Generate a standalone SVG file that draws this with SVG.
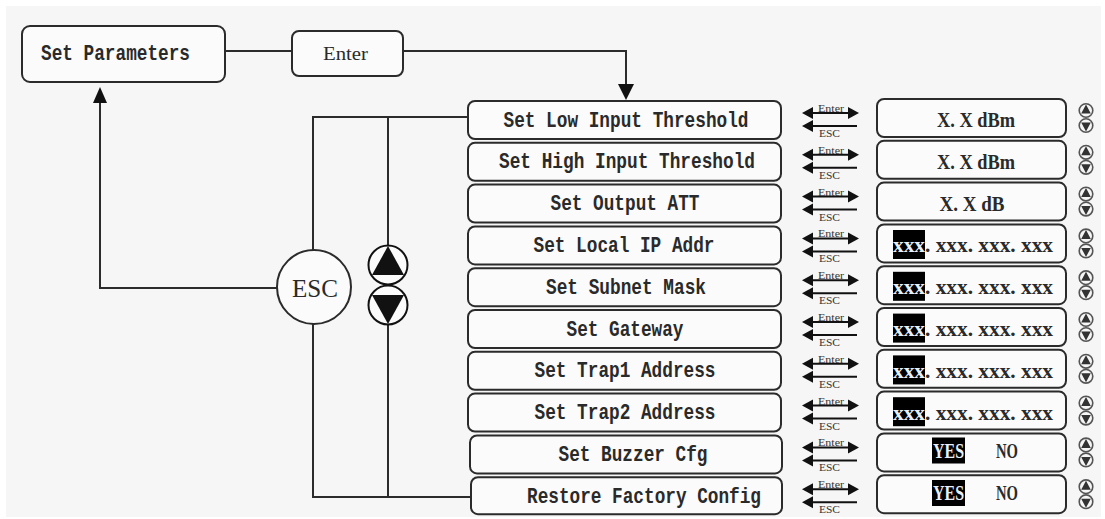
<svg xmlns="http://www.w3.org/2000/svg" xmlns:xlink="http://www.w3.org/1999/xlink" width="1105" height="519" viewBox="0 0 1105 519">
<style>
.box{fill:#fbfbfb;stroke:#2b2b2b;stroke-width:2}
.ln{fill:none;stroke:#2b2b2b;stroke-width:2}
.mono{font-family:"Liberation Mono","Courier New",monospace;font-weight:bold;font-size:22px;fill:#2a2a2a}
.ser{font-family:"Liberation Serif","Times New Roman",serif;fill:#2a2a2a}
.val{font-family:"Liberation Serif","Times New Roman",serif;font-size:20px;fill:#2a2a2a;font-weight:bold}
.sm{font-family:"Liberation Serif","Times New Roman",serif;font-size:11px;fill:#333}
.hl{fill:#000}
.inv{fill:#e8f0ff}
.blk{fill:#111}
</style>
<defs>
<g id="ea">
<line x1="810" y1="-7" x2="851" y2="-7" stroke="#111" stroke-width="2"/>
<polygon points="802,-7 813,-13 813,-1" fill="#111"/>
<polygon points="859,-7 848,-13 848,-1" fill="#111"/>
<line x1="810" y1="6" x2="857" y2="6" stroke="#111" stroke-width="2"/>
<polygon points="802,6 813,0 813,12" fill="#111"/>
</g>
<g id="ud">
<circle cx="0" cy="-7.5" r="6.8" fill="none" stroke="#555" stroke-width="1.6"/>
<polygon points="0,-13.5 -4.8,-4.5 4.8,-4.5" fill="#333"/>
<circle cx="0" cy="7.5" r="6.8" fill="none" stroke="#555" stroke-width="1.6"/>
<polygon points="0,13.5 -4.8,4.5 4.8,4.5" fill="#333"/>
</g>
</defs>
<rect x="0" y="0" width="1105" height="519" fill="#ffffff"/>
<rect x="6" y="6" width="1095" height="511" fill="#f6f6f6"/>

<g id="connectors">
<line class="ln" x1="225" y1="51" x2="292" y2="51"/>
<path class="ln" d="M403,51 H626 V86"/>
<polygon points="626,100 618,84 634,84" class="blk"/>
<path class="ln" d="M468,117 H313 V250"/>
<line class="ln" x1="388" y1="117" x2="388" y2="245"/>
<path class="ln" d="M313,324 V497 H471"/>
<line class="ln" x1="388" y1="325" x2="388" y2="497"/>
<path class="ln" d="M277,288 H100 V100"/>
<polygon points="100,87 93,103 107,103" class="blk"/>
</g>

<g id="set-parameters">
<rect class="box" x="22" y="26" width="203" height="56" rx="8"/>
<text class="mono" x="41" y="60" textLength="149" lengthAdjust="spacingAndGlyphs">Set Parameters</text>
</g>
<g id="enter">
<rect class="box" x="292" y="31" width="111" height="45" rx="7"/>
<text class="ser" x="323" y="60" font-size="18" textLength="45" lengthAdjust="spacingAndGlyphs">Enter</text>
</g>
<g id="esc">
<circle cx="314" cy="287" r="37" fill="#fbfbfb" stroke="#2b2b2b" stroke-width="2"/>
<text class="ser" x="315" y="297" font-size="25" text-anchor="middle" textLength="46" lengthAdjust="spacingAndGlyphs">ESC</text>
</g>
<g id="updown">
<circle cx="388" cy="265" r="19.5" fill="#fbfbfb" stroke="#111" stroke-width="2"/>
<polygon points="388,246 372,275 404,275" class="blk"/>
<circle cx="388" cy="305" r="19.5" fill="#fbfbfb" stroke="#111" stroke-width="2"/>
<polygon points="388,324 372,295 404,295" class="blk"/>
</g>

<g id="menu-low">
<rect class="box" x="468" y="101" width="313" height="38" rx="7"/>
<text class="mono" x="626" y="126.5" text-anchor="middle" textLength="245" lengthAdjust="spacingAndGlyphs">Set Low Input Threshold</text>
</g>
<g id="menu-high">
<rect class="box" x="468" y="142.8" width="313" height="38" rx="7"/>
<text class="mono" x="627" y="168.3" text-anchor="middle" textLength="256" lengthAdjust="spacingAndGlyphs">Set High Input Threshold</text>
</g>
<g id="menu-att">
<rect class="box" x="468" y="184.6" width="313" height="38" rx="7"/>
<text class="mono" x="625" y="210.1" text-anchor="middle" textLength="149" lengthAdjust="spacingAndGlyphs">Set Output ATT</text>
</g>
<g id="menu-ip">
<rect class="box" x="468" y="226.4" width="313" height="38" rx="7"/>
<text class="mono" x="624" y="251.9" text-anchor="middle" textLength="181" lengthAdjust="spacingAndGlyphs">Set Local IP Addr</text>
</g>
<g id="menu-mask">
<rect class="box" x="468" y="268.2" width="313" height="38" rx="7"/>
<text class="mono" x="626" y="293.7" text-anchor="middle" textLength="160" lengthAdjust="spacingAndGlyphs">Set Subnet Mask</text>
</g>
<g id="menu-gw">
<rect class="box" x="468" y="310" width="313" height="38" rx="7"/>
<text class="mono" x="625" y="335.5" text-anchor="middle" textLength="117" lengthAdjust="spacingAndGlyphs">Set Gateway</text>
</g>
<g id="menu-trap1">
<rect class="box" x="468" y="351.8" width="313" height="38" rx="7"/>
<text class="mono" x="625" y="377.3" text-anchor="middle" textLength="181" lengthAdjust="spacingAndGlyphs">Set Trap1 Address</text>
</g>
<g id="menu-trap2">
<rect class="box" x="468" y="393.6" width="313" height="38" rx="7"/>
<text class="mono" x="625" y="419.1" text-anchor="middle" textLength="181" lengthAdjust="spacingAndGlyphs">Set Trap2 Address</text>
</g>
<g id="menu-buzzer">
<rect class="box" x="470" y="435.4" width="312" height="38" rx="7"/>
<text class="mono" x="633" y="460.9" text-anchor="middle" textLength="149" lengthAdjust="spacingAndGlyphs">Set Buzzer Cfg</text>
</g>
<g id="menu-restore">
<rect class="box" x="471" y="477.2" width="311" height="37" rx="7"/>
<text class="mono" x="644" y="502.5" text-anchor="middle" textLength="234" lengthAdjust="spacingAndGlyphs">Restore Factory Config</text>
</g>

<g id="keys">
<use xlink:href="#ea" href="#ea" transform="translate(0,120)"/>
<use xlink:href="#ea" href="#ea" transform="translate(0,161.8)"/>
<use xlink:href="#ea" href="#ea" transform="translate(0,203.6)"/>
<use xlink:href="#ea" href="#ea" transform="translate(0,245.4)"/>
<use xlink:href="#ea" href="#ea" transform="translate(0,287.2)"/>
<use xlink:href="#ea" href="#ea" transform="translate(0,329)"/>
<use xlink:href="#ea" href="#ea" transform="translate(0,370.8)"/>
<use xlink:href="#ea" href="#ea" transform="translate(0,412.6)"/>
<use xlink:href="#ea" href="#ea" transform="translate(0,454.4)"/>
<use xlink:href="#ea" href="#ea" transform="translate(0,496.2)"/>
<text class="sm" x="818" y="112" textLength="26" lengthAdjust="spacingAndGlyphs">Enter</text>
<text class="sm" x="819" y="137" textLength="21" lengthAdjust="spacingAndGlyphs">ESC</text>
<text class="sm" x="818" y="153.8" textLength="26" lengthAdjust="spacingAndGlyphs">Enter</text>
<text class="sm" x="819" y="178.8" textLength="21" lengthAdjust="spacingAndGlyphs">ESC</text>
<text class="sm" x="818" y="195.6" textLength="26" lengthAdjust="spacingAndGlyphs">Enter</text>
<text class="sm" x="819" y="220.6" textLength="21" lengthAdjust="spacingAndGlyphs">ESC</text>
<text class="sm" x="818" y="237.4" textLength="26" lengthAdjust="spacingAndGlyphs">Enter</text>
<text class="sm" x="819" y="262.4" textLength="21" lengthAdjust="spacingAndGlyphs">ESC</text>
<text class="sm" x="818" y="279.2" textLength="26" lengthAdjust="spacingAndGlyphs">Enter</text>
<text class="sm" x="819" y="304.2" textLength="21" lengthAdjust="spacingAndGlyphs">ESC</text>
<text class="sm" x="818" y="321" textLength="26" lengthAdjust="spacingAndGlyphs">Enter</text>
<text class="sm" x="819" y="346" textLength="21" lengthAdjust="spacingAndGlyphs">ESC</text>
<text class="sm" x="818" y="362.8" textLength="26" lengthAdjust="spacingAndGlyphs">Enter</text>
<text class="sm" x="819" y="387.8" textLength="21" lengthAdjust="spacingAndGlyphs">ESC</text>
<text class="sm" x="818" y="404.6" textLength="26" lengthAdjust="spacingAndGlyphs">Enter</text>
<text class="sm" x="819" y="429.6" textLength="21" lengthAdjust="spacingAndGlyphs">ESC</text>
<text class="sm" x="818" y="446.4" textLength="26" lengthAdjust="spacingAndGlyphs">Enter</text>
<text class="sm" x="819" y="471.4" textLength="21" lengthAdjust="spacingAndGlyphs">ESC</text>
<text class="sm" x="818" y="488.2" textLength="26" lengthAdjust="spacingAndGlyphs">Enter</text>
<text class="sm" x="819" y="513.2" textLength="21" lengthAdjust="spacingAndGlyphs">ESC</text>
</g>

<g id="val-low">
<rect class="box" x="877" y="99" width="189" height="38" rx="7"/>
<text class="val" x="976" y="127" text-anchor="middle" textLength="78" lengthAdjust="spacingAndGlyphs">X. X dBm</text>
</g>
<g id="val-high">
<rect class="box" x="877" y="140.8" width="189" height="38" rx="7"/>
<text class="val" x="976" y="168.8" text-anchor="middle" textLength="78" lengthAdjust="spacingAndGlyphs">X. X dBm</text>
</g>
<g id="val-att">
<rect class="box" x="877" y="182.6" width="189" height="38" rx="7"/>
<text class="val" x="972" y="210.6" text-anchor="middle" textLength="65" lengthAdjust="spacingAndGlyphs">X. X dB</text>
</g>
<g id="val-ip">
<rect class="box" x="877" y="224.4" width="189" height="38" rx="7"/>
<rect class="hl" x="893" y="230" width="32" height="29"/>
<text class="val" x="893" y="252.4" textLength="160" lengthAdjust="spacingAndGlyphs"><tspan class="inv">xxx</tspan>. xxx. xxx. xxx</text>
</g>
<g id="val-mask">
<rect class="box" x="877" y="266.2" width="189" height="38" rx="7"/>
<rect class="hl" x="893" y="271.8" width="32" height="29"/>
<text class="val" x="893" y="294.2" textLength="160" lengthAdjust="spacingAndGlyphs"><tspan class="inv">xxx</tspan>. xxx. xxx. xxx</text>
</g>
<g id="val-gw">
<rect class="box" x="877" y="308" width="189" height="38" rx="7"/>
<rect class="hl" x="893" y="313.6" width="32" height="29"/>
<text class="val" x="893" y="336" textLength="160" lengthAdjust="spacingAndGlyphs"><tspan class="inv">xxx</tspan>. xxx. xxx. xxx</text>
</g>
<g id="val-trap1">
<rect class="box" x="877" y="349.8" width="189" height="38" rx="7"/>
<rect class="hl" x="893" y="355.4" width="32" height="29"/>
<text class="val" x="893" y="377.8" textLength="160" lengthAdjust="spacingAndGlyphs"><tspan class="inv">xxx</tspan>. xxx. xxx. xxx</text>
</g>
<g id="val-trap2">
<rect class="box" x="877" y="391.6" width="189" height="38" rx="7"/>
<rect class="hl" x="893" y="397.2" width="32" height="29"/>
<text class="val" x="893" y="419.6" textLength="160" lengthAdjust="spacingAndGlyphs"><tspan class="inv">xxx</tspan>. xxx. xxx. xxx</text>
</g>
<g id="val-buzzer">
<rect class="box" x="877" y="433.4" width="189" height="38" rx="7"/>
<rect class="hl" x="932" y="437.5" width="33" height="26"/>
<text class="val inv" x="933" y="457.5" textLength="31" lengthAdjust="spacingAndGlyphs">YES</text>
<text class="val" x="996" y="457.5" textLength="22" lengthAdjust="spacingAndGlyphs">NO</text>
</g>
<g id="val-restore">
<rect class="box" x="877" y="475.2" width="189" height="38" rx="7"/>
<rect class="hl" x="932" y="480" width="33" height="26"/>
<text class="val inv" x="933" y="500" textLength="31" lengthAdjust="spacingAndGlyphs">YES</text>
<text class="val" x="996" y="500" textLength="22" lengthAdjust="spacingAndGlyphs">NO</text>
</g>

<g id="scroll-icons">
<use xlink:href="#ud" href="#ud" transform="translate(1086,118)"/>
<use xlink:href="#ud" href="#ud" transform="translate(1086,159.8)"/>
<use xlink:href="#ud" href="#ud" transform="translate(1086,201.6)"/>
<use xlink:href="#ud" href="#ud" transform="translate(1086,243.4)"/>
<use xlink:href="#ud" href="#ud" transform="translate(1086,285.2)"/>
<use xlink:href="#ud" href="#ud" transform="translate(1086,327)"/>
<use xlink:href="#ud" href="#ud" transform="translate(1086,368.8)"/>
<use xlink:href="#ud" href="#ud" transform="translate(1086,410.6)"/>
<use xlink:href="#ud" href="#ud" transform="translate(1086,452.4)"/>
<use xlink:href="#ud" href="#ud" transform="translate(1086,494.2)"/>
</g>
</svg>
